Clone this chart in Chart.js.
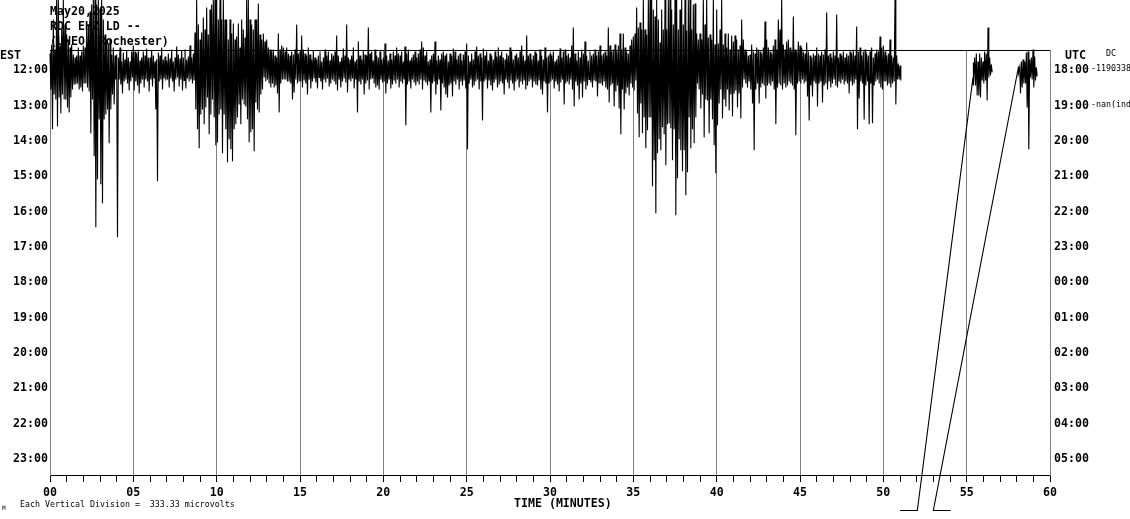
<!DOCTYPE html>
<html>
<head>
<meta charset="utf-8">
<title>RDC EHZ LD helicorder</title>
<script src="https://cdn.jsdelivr.net/npm/chart.js@4"></script>
<style>
html, body { margin: 0; padding: 0; background: #fff; }
canvas { display: block; }
</style>
</head>
<body>
<canvas id="heli" width="1130" height="519"></canvas>
<script>
// local and utc hour labels, top row to bottom row
var estLabels = ['12:00','13:00','14:00','15:00','16:00','17:00','18:00','19:00','20:00','21:00','22:00','23:00'];
var utcLabels = ['18:00','19:00','20:00','21:00','22:00','23:00','00:00','01:00','02:00','03:00','04:00','05:00'];
var headerLines = ['May20,2025', 'RDC EHZ LD --', '(UNEO, Rochester)'];
var divisionNote = 'Each Vertical Division =  333.33 microvolts';
var xTitle = 'TIME (MINUTES)';
var dcValues = ['-1190338', '-nan(ind'];

var rowCounts = 35.35;   // trace counts per hour row
var columnStep = 0.1;    // minutes between trace columns

// first trace: top and bottom of each 0.1 minute column, counts from the 12:00 row, one line per minute
var traceHigh = [
-16,-25,-50,-20,-70,-70,-24,-40,-70,-45,
-35,-30,-22,-25,-15,-12,-14,-22,-14,-18,
-24,-22,-40,-45,-58,-65,-70,-70,-65,-70,
-60,-70,-50,-35,-30,-25,-30,-15,-22,-14,
-15,-12,-22,-8,-17,-10,-19,-12,-8,-18,
-24,-18,-16,-20,-9,-12,-18,-14,-21,-12,
-12,-19,-14,-8,-10,-17,-14,-22,-10,-13,
-9,-16,-11,-20,-8,-12,-23,-15,-11,-19,
-12,-20,-10,-13,-24,-12,-16,-37,-70,-45,
-30,-37,-52,-40,-62,-35,-60,-65,-70,-70,
-70,-50,-70,-50,-70,-50,-50,-30,-50,-36,
-46,-30,-33,-46,-22,-50,-40,-32,-70,-70,
-50,-45,-40,-50,-50,-66,-35,-30,-36,-28,
-30,-22,-20,-18,-20,-14,-12,-36,-20,-24,
-22,-18,-22,-16,-14,-18,-15,-20,-45,-16,
-18,-34,-20,-16,-14,-22,-15,-10,-19,-12,
-10,-14,-18,-8,-12,-20,-14,-18,-9,-16,
-14,-18,-34,-14,-8,-12,-21,-14,-45,-12,
-10,-14,-22,-8,-10,-28,-14,-10,-19,-15,
-14,-42,-16,-18,-9,-20,-14,-12,-18,-10,
-12,-26,-14,-9,-16,-10,-18,-14,-22,-16,
-14,-18,-8,-23,-16,-20,-9,-12,-15,-18,
-12,-16,-20,-28,-22,-14,-18,-8,-10,-14,
-16,-28,-9,-14,-10,-16,-18,-14,-16,-8,
-16,-14,-21,-18,-10,-14,-16,-9,-15,-18,
-26,-14,-8,-16,-10,-18,-23,-14,-16,-12,
-21,-14,-18,-9,-16,-14,-10,-18,-13,-22,
-14,-18,-12,-10,-16,-14,-22,-18,-10,-14,
-16,-12,-18,-24,-14,-9,-34,-14,-16,-10,
-14,-18,-16,-9,-20,-14,-10,-22,-12,-14,
-16,-14,-18,-8,-10,-14,-21,-12,-18,-20,
-14,-16,-12,-24,-42,-16,-9,-18,-12,-20,
-16,-28,-14,-9,-18,-14,-16,-20,-14,-18,
-24,-14,-16,-18,-14,-42,-24,-18,-20,-25,
-18,-24,-36,-20,-36,-22,-18,-16,-24,-30,
-33,-36,-62,-42,-47,-40,-70,-40,-35,-70,
-70,-70,-60,-53,-70,-50,-27,-60,-40,-70,
-40,-70,-70,-60,-45,-70,-70,-40,-60,-70,
-45,-70,-39,-70,-70,-40,-65,-66,-36,-30,
-36,-30,-70,-45,-70,-32,-35,-30,-70,-25,
-60,-26,-40,-70,-25,-36,-22,-36,-20,-34,
-28,-34,-30,-20,-24,-50,-30,-20,-18,-14,
-15,-25,-18,-16,-22,-20,-18,-16,-22,-48,
-30,-22,-18,-16,-24,-30,-20,-50,-40,-70,
-25,-20,-28,-30,-22,-18,-53,-20,-18,-28,
-24,-22,-18,-16,-27,-18,-14,-12,-16,-14,
-22,-16,-14,-18,-15,-20,-57,-14,-16,-12,
-18,-14,-55,-12,-16,-14,-18,-12,-16,-14,
-18,-16,-20,-14,-43,-18,-22,-14,-18,-20,
-16,-14,-18,-22,-12,-16,-20,-18,-33,-22,
-24,-18,-14,-16,-30,-14,-12,-70,-14,-6,-4
];
var traceLow = [
20,60,25,30,57,28,44,25,30,30,
38,43,28,20,15,15,14,20,18,22,
14,14,18,22,64,30,87,158,110,50,
115,134,50,45,40,74,40,25,35,10,
168,10,15,24,12,10,14,21,12,8,
21,12,16,24,14,10,18,10,12,22,
10,17,9,40,112,12,10,20,9,11,
10,18,9,12,22,10,8,17,10,21,
11,19,9,12,10,14,11,40,60,79,
45,40,55,38,28,65,45,30,48,76,
73,45,40,84,45,60,93,70,80,92,
60,55,48,35,55,30,35,37,50,73,
63,60,82,33,40,43,25,20,8,12,
10,14,18,14,18,16,24,43,14,10,
10,10,12,12,14,30,23,10,14,12,
12,18,11,14,25,10,19,12,9,13,
19,8,12,20,10,13,9,17,14,10,
12,15,21,10,18,12,9,13,23,10,
12,9,19,10,43,12,15,10,25,14,
11,20,10,9,14,18,16,20,10,13,
12,24,14,10,19,15,11,14,10,18,
12,14,10,56,15,12,19,10,13,16,
12,15,10,20,11,13,16,12,43,14,
12,25,15,10,41,14,18,25,28,16,
14,27,12,15,10,20,12,16,11,19,
80,14,10,18,16,12,10,20,12,51,
12,10,19,11,16,21,13,10,18,15,
12,14,25,10,13,19,11,14,21,12,
10,18,12,15,11,20,16,12,10,18,
12,15,16,11,20,25,12,14,43,14,
12,10,19,12,15,22,13,10,35,14,
12,15,10,20,37,12,16,30,14,28,
12,20,16,10,13,18,11,12,27,14,
14,16,12,18,20,33,16,14,37,22,
16,39,65,20,40,24,18,26,14,18,
21,11,44,68,34,64,48,79,61,48,
48,117,91,144,84,70,81,58,65,96,
55,54,59,91,60,146,109,70,81,102,
81,126,103,48,79,60,74,48,14,20,
39,25,68,30,31,64,30,50,76,104,
56,34,20,49,30,37,20,41,25,47,
24,21,38,24,49,18,10,14,18,12,
20,34,81,20,14,34,18,14,16,29,
16,14,16,12,20,55,18,14,16,20,
14,18,16,12,14,16,20,66,14,12,
14,10,14,12,27,51,16,27,12,14,
37,14,12,33,16,14,20,12,18,14,
10,16,18,12,14,10,15,12,14,24,
12,16,14,10,60,29,12,14,50,16,
12,55,14,54,16,12,10,14,18,20,
12,12,16,14,18,14,12,35,10,10,11
];

// the two short bursts after the gap, same units
var burstAStart = 55.38;
var burstAHigh = [-7,-12,-16,-8,-16,-12,-8,-18,-16,-42,-12,-5];
var burstALow = [16,16,26,26,28,11,14,11,31,8,6,3];
var burstBStart = 58.08;
var burstBHigh = [-3,-2,-8,-10,-8,-17,-18,-10,-12,-20,-13,-2];
var burstBLow = [4,24,18,14,14,38,80,8,10,18,11,7];

// the wrap-around legs running off the bottom of the drum
var legAMinutes = [51.0, 52.04, 55.38];
var legACounts = [441.5, 441.5, 8];
var legBMinutes = [54.04, 53.0, 58.08];
var legBCounts = [441.5, 441.5, 0];

var topHour = 11.45;
var bottomHour = 23.485;
var frameHour = 11.464;

function toHour(c) {
    return 12 + c / rowCounts;
}

function zigzag(start, highs, lows, pts) {
    for (var i = 0; i < highs.length; i++) {
        pts.push({x: start + i * columnStep, y: toHour(highs[i])});
        pts.push({x: start + (i + 0.5) * columnStep, y: toHour(lows[i])});
    }
    return pts;
}

function legPoints(minutes, counts) {
    var pts = [];
    for (var i = 0; i < minutes.length; i++) {
        pts.push({x: minutes[i], y: toHour(counts[i])});
    }
    return pts;
}

function traceSet(pts, width) {
    return {
        data: pts,
        borderColor: '#000',
        borderWidth: width,
        pointRadius: 0,
        tension: 0,
        clip: false
    };
}

var monoFont = '"DejaVu Sans Mono", "Liberation Mono", monospace';

// texts sitting around the plot, drawn under the trace
var drumText = {
    id: 'drumText',
    beforeDatasetsDraw: function(chart) {
        var ctx = chart.ctx;
        ctx.save();
        ctx.fillStyle = '#000';
        ctx.textBaseline = 'middle';
        ctx.textAlign = 'left';

        ctx.font = 'bold 11.6px ' + monoFont;
        ctx.fillText(headerLines[0], 50, 12);
        ctx.fillText(headerLines[1], 50, 27);
        ctx.fillText(headerLines[2], 50, 42);

        ctx.fillText('EST', 0, 56);
        ctx.fillText('UTC', 1065, 56);
        ctx.fillText(xTitle, 514, 504);

        ctx.font = '8.3px ' + monoFont;
        ctx.fillText('DC', 1106, 54);
        ctx.fillText(dcValues[0], 1091, 69);
        ctx.fillText(dcValues[1], 1091, 105);
        ctx.fillText(divisionNote, 20, 505);
        ctx.font = '6px ' + monoFont;
        ctx.fillText('M', 2, 508);
        ctx.restore();
    }
};

function hourTicks(scale) {
    scale.ticks = estLabels.map(function(l, i) {
        return {value: 12 + i};
    });
}

var ctx = document.getElementById('heli').getContext('2d');
var chart = new Chart(ctx, {
    type: 'line',
    plugins: [drumText],
    data: {
        datasets: [
            traceSet([{x: 0, y: frameHour}, {x: 60, y: frameHour}], 1),
            traceSet(zigzag(0, traceHigh, traceLow, []), 1.1),
            traceSet(zigzag(burstAStart, burstAHigh, burstALow, legPoints(legAMinutes, legACounts)), 1.1),
            traceSet(zigzag(burstBStart, burstBHigh, burstBLow, legPoints(legBMinutes, legBCounts)), 1.1)
        ]
    },
    options: {
        responsive: false,
        animation: false,
        devicePixelRatio: 1,
        layout: {padding: {top: 50, left: 0, right: 0, bottom: 0}},
        plugins: {legend: {display: false}, title: {display: false}, tooltip: {enabled: false}},
        scales: {
            x: {
                type: 'linear',
                min: 0,
                max: 60,
                afterFit: function(scale) { scale.height = 44; },
                border: {color: '#000'},
                grid: {
                    tickLength: 7,
                    tickColor: '#000',
                    color: function(c) {
                        return c.tick && c.tick.value % 5 === 0 ? '#808080' : 'rgba(0,0,0,0)';
                    }
                },
                ticks: {
                    stepSize: 1,
                    autoSkip: false,
                    maxRotation: 0,
                    padding: 4,
                    color: '#000',
                    font: {family: monoFont, size: 11.6, weight: 'bold'},
                    callback: function(v) {
                        if (v % 5 !== 0) return '';
                        return v < 10 ? '0' + v : '' + v;
                    }
                }
            },
            y: {
                type: 'linear',
                position: 'left',
                reverse: true,
                min: topHour,
                max: bottomHour,
                afterBuildTicks: hourTicks,
                afterFit: function(scale) { scale.width = 50; },
                border: {color: '#808080'},
                grid: {display: false, drawTicks: false},
                ticks: {
                    padding: 2,
                    labelOffset: 1,
                    color: '#000',
                    font: {family: monoFont, size: 11.6, weight: 'bold'},
                    callback: function(v) { return estLabels[v - 12]; }
                }
            },
            y2: {
                type: 'linear',
                position: 'right',
                reverse: true,
                min: topHour,
                max: bottomHour,
                afterBuildTicks: hourTicks,
                afterFit: function(scale) { scale.width = 80; },
                border: {color: '#808080'},
                grid: {display: false, drawTicks: false},
                ticks: {
                    padding: 4,
                    labelOffset: 1,
                    color: '#000',
                    font: {family: monoFont, size: 11.6, weight: 'bold'},
                    callback: function(v) { return utcLabels[v - 12]; }
                }
            }
        }
    }
});
</script>
</body>
</html>
